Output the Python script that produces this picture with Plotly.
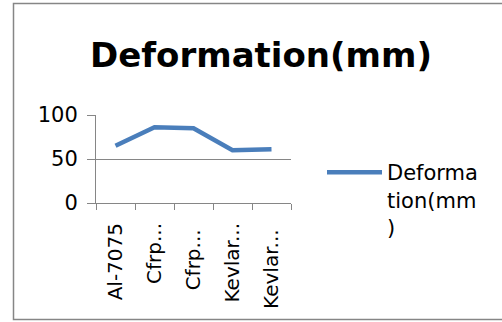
import plotly.graph_objects as go

categories = ["Al-7075", "Cfrp...", "Cfrp... ", "Kevlar...", "Kevlar... "]
deformation = [65, 86, 85, 60, 61]
series_name = "Deforma<br>tion(mm<br>)"
title_text = "Deformation(mm)"
y_ticks = [0, 50, 100]

FONT = "DejaVu Sans, sans-serif"
L, R, T, B = 96, 211, 115, 119
W, H = 502, 322
pw, ph = W - L - R, H - T - B

def px(x):
    return (x - L) / pw

def py(y):
    return (H - B - y) / ph

fig = go.Figure()
fig.add_trace(go.Scatter(
    x=categories, y=deformation, mode="lines", name=series_name,
    line=dict(color="#4A7EBB", width=4.5),
))

fig.update_layout(
    width=W, height=H,
    margin=dict(l=L, r=R, t=T, b=B, pad=0),
    paper_bgcolor="white", plot_bgcolor="white",
    font=dict(family=FONT, size=20, color="black"),
    showlegend=True,
    title=dict(text="<b>" + title_text + "</b>", x=px(261), xanchor="center",
               y=1 - 55 / H, yanchor="middle", xref="paper",
               font=dict(size=34, family=FONT, color="black")),
    legend=dict(x=px(322), y=py(152), xanchor="left", yanchor="top",
                valign="top", font=dict(size=21, family=FONT),
                bgcolor="rgba(0,0,0,0)", itemwidth=55, maxheight=300),
    xaxis=dict(type="category", range=[-0.5, 4.5], tickson="boundaries",
               ticks="outside", ticklen=6, tickcolor="#868686",
               showline=True, linecolor="#868686", linewidth=1,
               showgrid=False, tickangle=-90, tickfont=dict(size=20),
               ticklabelstandoff=11,
               zeroline=False, fixedrange=True),
    yaxis=dict(range=[0, 100], tickvals=y_ticks, ticks="outside", ticklen=8,
               tickcolor="#868686", showline=True, linecolor="#868686",
               showgrid=True, gridcolor="#868686", gridwidth=1,
               ticklabelstandoff=5,
               zeroline=False, tickfont=dict(size=21), fixedrange=True),
    shapes=[dict(type="rect", xref="paper", yref="paper",
                 x0=px(13.5), x1=px(560), y0=py(319.5), y1=py(3.5),
                 line=dict(color="#868686", width=1.5), fillcolor="rgba(0,0,0,0)",
                 layer="below")],
)

fig.write_html("out.html", config={"displayModeBar": False},
               post_script="document.body.style.margin='0';document.body.style.overflow='hidden';")
